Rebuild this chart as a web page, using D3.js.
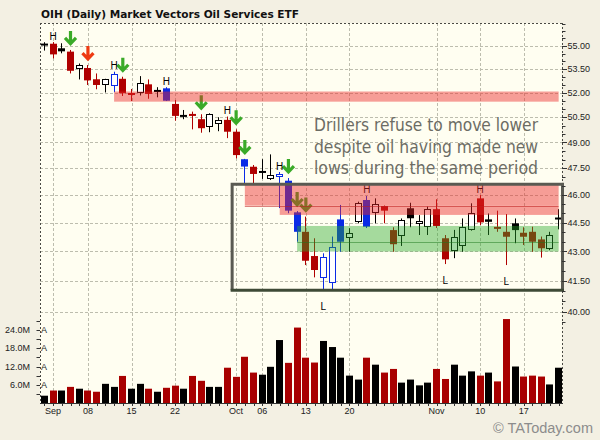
<!DOCTYPE html>
<html><head><meta charset="utf-8">
<script src="https://cdn.jsdelivr.net/npm/d3@7"></script>
<style>body{margin:0;background:#f3f0e3}svg{display:block}</style>
</head><body><svg id="chart" width="600" height="440"></svg>
<script>
// ---------- data ----------
const dates = ["2014-08-29","2014-09-02","2014-09-03","2014-09-04","2014-09-05","2014-09-08","2014-09-09","2014-09-10","2014-09-11","2014-09-12","2014-09-15","2014-09-16","2014-09-17","2014-09-18","2014-09-19","2014-09-22","2014-09-23","2014-09-24","2014-09-25","2014-09-26","2014-09-29","2014-09-30","2014-10-01","2014-10-02","2014-10-03","2014-10-06","2014-10-07","2014-10-08","2014-10-09","2014-10-10","2014-10-13","2014-10-14","2014-10-15","2014-10-16","2014-10-17","2014-10-20","2014-10-21","2014-10-22","2014-10-23","2014-10-24","2014-10-27","2014-10-28","2014-10-29","2014-10-30","2014-10-31","2014-11-03","2014-11-04","2014-11-05","2014-11-06","2014-11-07","2014-11-10","2014-11-11","2014-11-12","2014-11-13","2014-11-14","2014-11-17","2014-11-18","2014-11-19","2014-11-20","2014-11-21"];
const openP  = [55.16,55.15,54.85,54.63,53.47,53.57,52.85,52.43,52.43,52.88,51.83,51.97,52.53,52.18,52.28,51.31,50.64,50.70,50.38,49.90,50.10,50.34,49.63,48.02,47.59,47.35,46.88,47.00,46.80,45.06,44.02,42.76,41.63,41.41,44.68,43.68,44.50,45.73,45.00,45.40,44.11,43.80,45.28,44.42,44.26,45.23,43.68,43.02,43.28,44.11,45.82,44.68,44.28,44.02,44.47,43.97,44.02,43.62,43.11,44.78];
const highP  = [55.25,55.26,55.18,54.74,53.86,53.76,53.22,52.88,53.33,53.01,52.24,53.05,52.84,52.35,52.35,51.55,50.94,50.84,50.68,50.74,50.50,50.54,49.77,48.04,47.69,48.02,48.30,47.29,46.95,45.13,44.83,43.68,42.90,43.77,45.46,44.21,45.64,45.95,45.82,45.43,44.26,44.73,45.58,44.91,45.37,45.77,43.85,44.12,44.73,45.55,46.00,45.00,45.15,44.97,44.73,44.26,44.29,43.77,44.02,45.23];
const lowP   = [54.70,54.19,54.52,53.22,52.84,52.49,52.22,52.02,52.04,51.80,51.49,51.83,51.63,51.72,51.49,50.29,50.38,49.77,49.57,49.60,49.66,49.25,48.07,46.61,46.65,46.90,46.84,45.29,45.01,43.50,42.30,41.68,41.05,41.02,42.98,42.98,44.47,44.22,44.47,44.47,42.98,43.28,44.26,43.85,43.85,44.22,42.35,42.65,42.98,44.08,44.38,43.85,44.02,42.30,43.42,43.33,42.98,42.68,43.06,44.15];
const closeP = [55.08,54.45,54.65,53.39,53.73,52.78,52.49,52.84,53.18,51.97,51.97,52.59,51.93,52.05,51.51,50.58,50.54,50.60,49.84,50.68,50.34,49.63,48.26,47.60,47.18,47.29,47.12,47.15,45.15,44.02,42.52,42.05,42.70,43.21,43.50,43.94,45.55,44.29,45.49,45.15,43.37,44.64,44.74,44.59,45.23,44.33,42.59,43.77,44.29,45.00,44.52,44.55,44.21,43.76,44.11,43.76,43.50,43.16,43.85,44.70];
// candle category: k black, r red, w white, b blue, bh blue hollow, rh red hollow
const candleKind = ["k","r","k","r","w","r","r","w","bh","r","rh","w","r","k","b","r","k","r","r","w","w","r","r","b","r","k","w","bh","b","b","r","r","bh","bh","b","w","w","b","w","r","r","w","k","w","w","r","r","w","w","w","r","k","r","r","k","r","r","r","w","k"];
// volume in millions
const volume = [2.4,4.1,4.1,5.3,4.7,4.1,3.7,6.3,5.3,8.9,4.7,6.3,4.7,3.7,5.0,5.7,4.7,8.9,7.3,5.3,5.3,11.6,8.6,15.2,10.0,9.3,11.9,20.7,13.2,24.8,14.9,13.3,20.4,18.4,14.9,9.0,7.7,14.9,12.6,10.0,11.2,6.7,7.7,5.8,6.7,11.2,7.9,12.6,9.0,10.4,9.0,10.0,7.1,27.6,12.0,8.7,9.0,8.7,6.1,11.6];
const volumeDir = ["u","d","u","d","u","d","d","u","u","d","u","u","d","u","d","d","u","d","d","u","u","d","d","d","d","u","u","u","d","d","d","d","u","u","u","u","u","d","u","d","d","u","u","u","u","d","d","u","u","u","d","u","d","d","u","d","d","d","u","u"];

const priceTicks = [55, 53.5, 52, 50.5, 49, 47.5, 46, 44.5, 43, 41.5, 40];
const volumeTicks = [6, 12, 18, 24];
const tickDates = ["2014-09-02","2014-09-08","2014-09-15","2014-09-22","2014-10-01","2014-10-06","2014-10-13","2014-10-20","2014-11-03","2014-11-10","2014-11-17"];
const tickLabels = ["Sep","08","15","22","Oct","06","13","20","Nov","10","17"];

const highMarks = ["2014-09-02","2014-09-11","2014-09-19","2014-09-30","2014-10-08","2014-10-22","2014-11-10"];
const lowMarks = ["2014-10-15","2014-11-04","2014-11-13"];
const arrowDates = ["2014-09-04","2014-09-08","2014-09-12","2014-09-25","2014-10-01","2014-10-02","2014-10-09","2014-10-10","2014-10-13"];
const arrowKind  = ["g","r","g","g","g","g","g","g","g"];

const zoneStart = ["2014-09-11","2014-10-02","2014-10-08","2014-10-10"];
const zoneEnd   = ["2014-11-21","2014-11-21","2014-11-21","2014-11-21"];
const zoneLow   = [51.45, 45.42, 44.92, 42.99];
const zoneHigh  = [52.08, 46.56, 45.42, 44.33];
const zoneKind  = ["res","res","res","sup"];
const zoneLineStart = ["2014-10-02","2014-10-10"];
const zoneLinePrice = [45.42, 43.50];
const zoneLineKind  = ["res","sup"];
const boxStart = "2014-10-01";
const boxHigh = 46.60, boxLow = 41.04;

const title = "OIH (Daily)  Market Vectors Oil Services ETF";
const noteLines = ["Drillers refuse to move lower","despite oil having made new","lows during the same period"];
const credit = "\u00A9 TAToday.com";

// ---------- layout ----------
const PL = 40, PR = 562, PT = 23, PB = 403;
const svg = d3.select("#chart");
const lab = "'Liberation Sans', Arial, sans-serif";

const x = d3.scaleBand().domain(dates).range([PL, 563]).paddingInner(0.2).paddingOuter(0.1);
const cx = d => x(d) + x.bandwidth() / 2;
const y = d3.scaleLog().domain([40, 55]).range([311.7, 46]);
const yv = d3.scaleLinear().domain([0, 24]).range([PB, 330]);
const px = v => Math.round(v) + 0.5;

const candleColor = d3.scaleOrdinal().domain(["k","r","w","b","bh","rh"]).range(["#000000","#b00000","#000000","#0a2ae6","#0a2ae6","#b00000"]);
const hollow = new Set(["w","bh","rh"]);
const volColor = d3.scaleOrdinal().domain(["u","d"]).range(["#000000","#a80000"]);
const zoneColor = d3.scaleOrdinal().domain(["res","sup"]).range(["rgba(236,40,40,0.45)","rgba(40,170,40,0.42)"]);
const zoneLineColor = d3.scaleOrdinal().domain(["res","sup"]).range(["rgba(190,30,30,0.55)","rgba(30,120,30,0.5)"]);
const arrowColor = d3.scaleOrdinal().domain(["g","r"]).range(["#3aaa28","#ee3a12"]);

// backgrounds
svg.append("rect").attr("width", 600).attr("height", 440).attr("fill", "#f3f0e3");
svg.append("rect").attr("x", PL).attr("y", PT).attr("width", PR - PL).attr("height", PB - PT).attr("fill", "#fffef1");

// grid
const grid = svg.append("g").attr("stroke", "#bdbdae").attr("stroke-dasharray", "3,2").attr("stroke-width", 1);
grid.selectAll("line.v").data(tickDates).join("line").attr("class", "v")
  .attr("x1", d => px(cx(d))).attr("x2", d => px(cx(d))).attr("y1", PT).attr("y2", PB);
grid.selectAll("line.h").data(priceTicks).join("line").attr("class", "h")
  .attr("x1", PL).attr("x2", PR).attr("y1", d => px(y(d))).attr("y2", d => px(y(d)));

// borders
const border = svg.append("g").attr("stroke", "#4a4a44").attr("stroke-dasharray", "2,2");
border.append("line").attr("x1", PL).attr("x2", PR).attr("y1", PT + 0.5).attr("y2", PT + 0.5);
border.append("line").attr("x1", PL + 0.5).attr("x2", PL + 0.5).attr("y1", PT).attr("y2", PB);
border.append("line").attr("x1", PR + 0.5).attr("x2", PR + 0.5).attr("y1", PT).attr("y2", PB);

const rows = dates.map((d, i) => ({d, o: openP[i], h: highP[i], l: lowP[i], c: closeP[i], k: candleKind[i], v: volume[i], vd: volumeDir[i]}));

// volume bars
svg.append("g").selectAll("rect").data(rows).join("rect")
  .attr("x", r => Math.round(cx(r.d) - 3.5)).attr("width", 7)
  .attr("y", r => yv(r.v)).attr("height", r => PB - yv(r.v))
  .attr("fill", r => volColor(r.vd));

svg.append("line").attr("x1", PL).attr("x2", PR + 1).attr("y1", PB + 0.5).attr("y2", PB + 0.5).attr("stroke", "#333");
svg.append("g").selectAll("line").data(dates).join("line")
  .attr("x1", d => px(cx(d))).attr("x2", d => px(cx(d))).attr("y1", PB).attr("y2", PB + 3).attr("stroke", "#333");

// candles
const cg = svg.append("g");
cg.selectAll("line").data(rows).join("line")
  .attr("x1", r => Math.round(cx(r.d) - 3.5) + 3.5).attr("x2", r => Math.round(cx(r.d) - 3.5) + 3.5)
  .attr("y1", r => y(r.h)).attr("y2", r => y(r.l))
  .attr("stroke", r => candleColor(r.k)).attr("stroke-width", 1);
cg.selectAll("rect").data(rows).join("rect")
  .each(function (r) {
    const top = y(Math.max(r.o, r.c)), bot = y(Math.min(r.o, r.c));
    const h = Math.max(2, bot - top);
    const x0 = Math.round(cx(r.d) - 3.5);
    const s = d3.select(this);
    if (hollow.has(r.k)) {
      s.attr("x", x0 + 0.5).attr("width", 6).attr("y", Math.round(top) + 0.5).attr("height", Math.max(1, Math.round(h) - 1))
        .attr("fill", "#ffffff").attr("stroke", candleColor(r.k)).attr("stroke-width", 1);
    } else {
      s.attr("x", x0).attr("width", 7).attr("y", top).attr("height", h).attr("fill", candleColor(r.k));
    }
  });

// arrows
const rowBy = new Map(rows.map(r => [r.d, r]));
svg.append("g").selectAll("path").data(arrowDates.map((d, i) => ({d, k: arrowKind[i]}))).join("path")
  .attr("transform", a => `translate(${cx(a.d)},${y(rowBy.get(a.d).h) - 4})`)
  .attr("d", "M0,-15L0,-3M-5.5,-8L0,-2.2L5.5,-8")
  .attr("fill", "none").attr("stroke", a => arrowColor(a.k)).attr("stroke-width", 3.2);

// H / L marks
svg.append("g").selectAll("text").data(highMarks).join("text")
  .attr("x", d => cx(d)).attr("y", d => y(rowBy.get(d).h) - 2.5)
  .attr("text-anchor", "middle").attr("font-family", lab).attr("font-size", 10).attr("fill", "#000").text("H");
svg.append("g").selectAll("text").data(lowMarks).join("text")
  .attr("x", d => cx(d)).attr("y", d => y(rowBy.get(d).l) + 19.5)
  .attr("text-anchor", "middle").attr("font-family", lab).attr("font-size", 10).attr("fill", "#000").text("L");

// zones (translucent, on top)
const zones = zoneStart.map((s, i) => ({s, e: zoneEnd[i], lo: zoneLow[i], hi: zoneHigh[i], k: zoneKind[i]}));
svg.append("g").selectAll("rect").data(zones).join("rect")
  .attr("x", z => cx(z.s)).attr("width", z => cx(z.e) - cx(z.s))
  .attr("y", z => y(z.hi)).attr("height", z => y(z.lo) - y(z.hi))
  .attr("fill", z => zoneColor(z.k));
svg.append("g").selectAll("line").data(zoneLineStart.map((s, i) => ({s, p: zoneLinePrice[i], k: zoneLineKind[i]}))).join("line")
  .attr("x1", z => cx(z.s)).attr("x2", cx(dates[dates.length - 1]))
  .attr("y1", z => px(y(z.p))).attr("y2", z => px(y(z.p)))
  .attr("stroke", z => zoneLineColor(z.k)).attr("stroke-width", 1);

// box
const bx0 = x(boxStart) - 0.5, bx1 = PR + 0.5, by0 = y(boxHigh), by1 = y(boxLow);
const box = svg.append("g").attr("stroke-width", 3).attr("fill", "none");
box.append("path").attr("d", `M${bx0},${by1}V${by0}H${bx1}V${by1}`).attr("stroke", "#5a5a52");
box.append("line").attr("x1", bx0 - 1.5).attr("x2", bx1 + 1.5).attr("y1", by1).attr("y2", by1).attr("stroke", "#3e4a36");

// annotation
svg.append("g").selectAll("text").data(noteLines).join("text")
  .attr("x", 314).attr("y", (d, i) => 130.7 + i * 21.8)
  .attr("font-family", "'DejaVu Sans Condensed','DejaVu Sans',sans-serif").attr("font-size", 17)
  .attr("fill", "#6c6c64").attr("textLength", 224).attr("lengthAdjust", "spacingAndGlyphs").text(d => d);

// right price axis
const ra = svg.append("g").attr("stroke", "#333");
ra.selectAll("line.m").data(d3.range(39.5, 56.6, 0.5)).join("line").attr("class", "m")
  .attr("x1", PR).attr("x2", PR + 3.5).attr("y1", d => px(y(d))).attr("y2", d => px(y(d)));
ra.selectAll("line.M").data(priceTicks).join("line").attr("class", "M")
  .attr("x1", PR).attr("x2", PR + 5).attr("y1", d => px(y(d))).attr("y2", d => px(y(d)));
svg.append("g").selectAll("text").data(priceTicks).join("text")
  .attr("x", 567.5).attr("y", d => y(d)).attr("dy", "0.35em")
  .attr("font-family", lab).attr("font-size", 9).attr("fill", "#222").text(d => d.toFixed(2));

// left volume axis
const la = svg.append("g").attr("stroke", "#333");
la.selectAll("line").data(d3.range(3, 28, 3)).join("line")
  .attr("x1", PL - 3.5).attr("x2", PL).attr("y1", d => px(yv(d))).attr("y2", d => px(yv(d)));
svg.append("g").selectAll("text").data(volumeTicks).join("text")
  .attr("x", 30).attr("y", d => yv(d)).attr("dy", "0.35em").attr("text-anchor", "end")
  .attr("font-family", lab).attr("font-size", 9).attr("fill", "#222").text(d => d.toFixed(1) + "M");
svg.append("g").selectAll("text").data(volumeTicks).join("text")
  .attr("x", 41).attr("y", d => yv(d)).attr("dy", "0.35em")
  .attr("font-family", lab).attr("font-size", 9).attr("fill", "#222").text("A");

// x labels
svg.append("g").selectAll("text").data(tickDates).join("text")
  .attr("x", d => cx(d)).attr("y", 414).attr("text-anchor", "middle")
  .attr("font-family", lab).attr("font-size", 9).attr("fill", "#222").text((d, i) => tickLabels[i]);

// title & credit
svg.append("text").attr("x", 41).attr("y", 18.3).attr("font-family", "'DejaVu Sans',sans-serif").attr("font-weight", "bold")
  .attr("font-size", 11).attr("fill", "#111").attr("textLength", 258).attr("lengthAdjust", "spacingAndGlyphs").text(title);
svg.append("text").attr("x", 493).attr("y", 433).attr("font-family", lab).attr("font-size", 14)
  .attr("fill", "#8c8c8c").attr("textLength", 100).attr("lengthAdjust", "spacingAndGlyphs").text(credit);
</script>
</body></html>
